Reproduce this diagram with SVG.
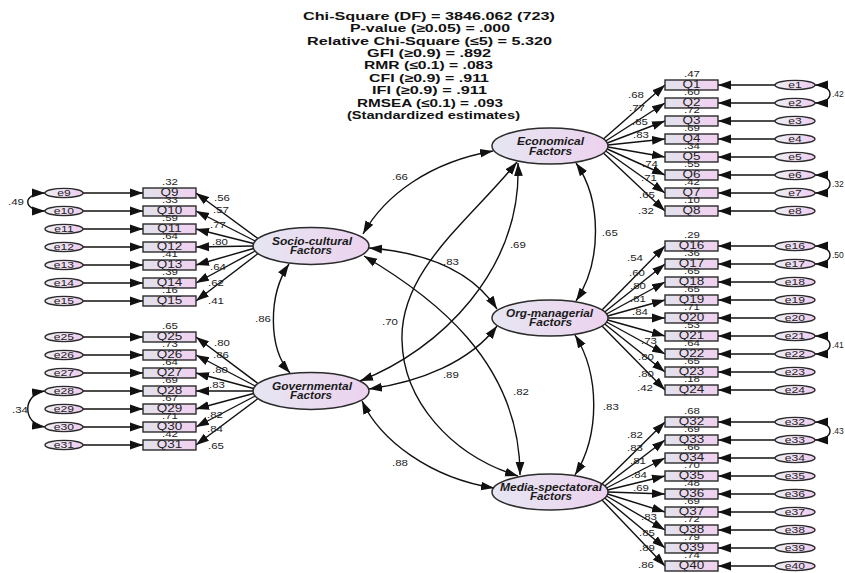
<svg xmlns="http://www.w3.org/2000/svg" width="845" height="573" viewBox="0 0 845 573">
<defs>
<linearGradient id="gq" x1="0" y1="0" x2="1" y2="0"><stop offset="0" stop-color="#e2e2ec"/><stop offset="1" stop-color="#f0d0f0"/></linearGradient>
<linearGradient id="ge" x1="0" y1="0" x2="1" y2="0"><stop offset="0" stop-color="#eeeef4"/><stop offset="1" stop-color="#efcdef"/></linearGradient>
<linearGradient id="gl" x1="0" y1="0" x2="1" y2="0"><stop offset="0" stop-color="#e6e6f2"/><stop offset="1" stop-color="#ecd2ee"/></linearGradient>
<marker id="ah" markerUnits="userSpaceOnUse" markerWidth="14" markerHeight="10" refX="13" refY="5" orient="auto-start-reverse" viewBox="0 0 14 10"><path d="M0,0.6 L13,5 L0,9.4 z" fill="#111"/></marker>
</defs>
<style>
text{font-family:"Liberation Sans",Arial,sans-serif;fill:#222}
.n rect{fill:url(#gq);stroke:#2b2b2b;stroke-width:1.4}
.e ellipse{fill:url(#ge);stroke:#2b2b2b;stroke-width:1.4}
.l ellipse{fill:url(#gl);stroke:#2b2b2b;stroke-width:1.5}
.s{transform-box:fill-box;transform-origin:center;transform:scaleX(1.35)}
.q{font-size:10px;text-anchor:middle}
.et{font-size:9px;text-anchor:middle}
.v{font-size:8.5px;text-anchor:middle}
.vs{font-size:8.5px;text-anchor:start}
.ve{font-size:8.5px;text-anchor:end}
.h{font-size:11px;font-weight:bold;text-anchor:middle;fill:#111}
.lt{font-size:10px;font-weight:bold;font-style:italic;text-anchor:middle;fill:#1a1a1a}
.c path,.c line{fill:none;stroke:#111;stroke-width:1.4}
.a1{marker-end:url(#ah)}
.a2{marker-start:url(#ah);marker-end:url(#ah)}
</style>
<rect width="845" height="573" fill="#fff"/>

<g id="header">
<text class="h" x="429" y="19.5" textLength="252" lengthAdjust="spacingAndGlyphs">Chi-Square (DF) = 3846.062 (723)</text>
<text class="h" x="430" y="32" textLength="160" lengthAdjust="spacingAndGlyphs">P-value (≥0.05) = .000</text>
<text class="h" x="429.5" y="44.5" textLength="245" lengthAdjust="spacingAndGlyphs">Relative Chi-Square (≤5) = 5.320</text>
<text class="h" x="429" y="57" textLength="124" lengthAdjust="spacingAndGlyphs">GFI (≥0.9) = .892</text>
<text class="h" x="428.5" y="69" textLength="129" lengthAdjust="spacingAndGlyphs">RMR (≤0.1) = .083</text>
<text class="h" x="429" y="82" textLength="120" lengthAdjust="spacingAndGlyphs">CFI (≥0.9) = .911</text>
<text class="h" x="429.5" y="94" textLength="115" lengthAdjust="spacingAndGlyphs">IFI (≥0.9) = .911</text>
<text class="h" x="430" y="106.5" textLength="146" lengthAdjust="spacingAndGlyphs">RMSEA (≤0.1) = .093</text>
<text class="h" x="433.5" y="119" textLength="173" lengthAdjust="spacingAndGlyphs">(Standardized estimates)</text>
</g>

<g id="connectors" class="c">
<line class="a1" x1="83" y1="193" x2="143" y2="193"/>
<line class="a1" x1="83" y1="211" x2="143" y2="211"/>
<line class="a1" x1="83" y1="229" x2="143" y2="229"/>
<line class="a1" x1="83" y1="247" x2="143" y2="247"/>
<line class="a1" x1="83" y1="265" x2="143" y2="265"/>
<line class="a1" x1="83" y1="283" x2="143" y2="283"/>
<line class="a1" x1="83" y1="301" x2="143" y2="301"/>
<line class="a1" x1="83" y1="337" x2="143" y2="337"/>
<line class="a1" x1="83" y1="355" x2="143" y2="355"/>
<line class="a1" x1="83" y1="373" x2="143" y2="373"/>
<line class="a1" x1="83" y1="391" x2="143" y2="391"/>
<line class="a1" x1="83" y1="409" x2="143" y2="409"/>
<line class="a1" x1="83" y1="427" x2="143" y2="427"/>
<line class="a1" x1="83" y1="445" x2="143" y2="445"/>
<line class="a1" x1="775" y1="85" x2="718" y2="85"/>
<line class="a1" x1="775" y1="103" x2="718" y2="103"/>
<line class="a1" x1="775" y1="121" x2="718" y2="121"/>
<line class="a1" x1="775" y1="139" x2="718" y2="139"/>
<line class="a1" x1="775" y1="157" x2="718" y2="157"/>
<line class="a1" x1="775" y1="175" x2="718" y2="175"/>
<line class="a1" x1="775" y1="193" x2="718" y2="193"/>
<line class="a1" x1="775" y1="211" x2="718" y2="211"/>
<line class="a1" x1="775" y1="246" x2="718" y2="246"/>
<line class="a1" x1="775" y1="264" x2="718" y2="264"/>
<line class="a1" x1="775" y1="282" x2="718" y2="282"/>
<line class="a1" x1="775" y1="300" x2="718" y2="300"/>
<line class="a1" x1="775" y1="318" x2="718" y2="318"/>
<line class="a1" x1="775" y1="336" x2="718" y2="336"/>
<line class="a1" x1="775" y1="354" x2="718" y2="354"/>
<line class="a1" x1="775" y1="372" x2="718" y2="372"/>
<line class="a1" x1="775" y1="390" x2="718" y2="390"/>
<line class="a1" x1="775" y1="422" x2="718" y2="422"/>
<line class="a1" x1="775" y1="440" x2="718" y2="440"/>
<line class="a1" x1="775" y1="458" x2="718" y2="458"/>
<line class="a1" x1="775" y1="476" x2="718" y2="476"/>
<line class="a1" x1="775" y1="494" x2="718" y2="494"/>
<line class="a1" x1="775" y1="512" x2="718" y2="512"/>
<line class="a1" x1="775" y1="530" x2="718" y2="530"/>
<line class="a1" x1="775" y1="548" x2="718" y2="548"/>
<line class="a1" x1="775" y1="566" x2="718" y2="566"/>
<line class="a1" x1="258" y1="238.5" x2="196" y2="193"/>
<line class="a1" x1="255.2" y1="241" x2="196" y2="211"/>
<line class="a1" x1="253.5" y1="243.5" x2="196" y2="229"/>
<line class="a1" x1="253" y1="246" x2="196" y2="247"/>
<line class="a1" x1="253.5" y1="248.5" x2="196" y2="265"/>
<line class="a1" x1="255.2" y1="251" x2="196" y2="283"/>
<line class="a1" x1="258" y1="253.5" x2="196" y2="301"/>
<line class="a1" x1="258" y1="383.5" x2="196" y2="337"/>
<line class="a1" x1="255.2" y1="386" x2="196" y2="355"/>
<line class="a1" x1="253.5" y1="388.5" x2="196" y2="373"/>
<line class="a1" x1="253" y1="391" x2="196" y2="391"/>
<line class="a1" x1="253.5" y1="393.5" x2="196" y2="409"/>
<line class="a1" x1="255.2" y1="396" x2="196" y2="427"/>
<line class="a1" x1="258" y1="398.5" x2="196" y2="445"/>
<line class="a1" x1="603.4" y1="139" x2="665" y2="85"/>
<line class="a1" x1="605.7" y1="141" x2="665" y2="103"/>
<line class="a1" x1="607.2" y1="143" x2="665" y2="121"/>
<line class="a1" x1="607.9" y1="145" x2="665" y2="139"/>
<line class="a1" x1="607.9" y1="147" x2="665" y2="157"/>
<line class="a1" x1="607.2" y1="149" x2="665" y2="175"/>
<line class="a1" x1="605.7" y1="151" x2="665" y2="193"/>
<line class="a1" x1="603.4" y1="153" x2="665" y2="211"/>
<line class="a1" x1="602" y1="310" x2="665" y2="246"/>
<line class="a1" x1="604.7" y1="312" x2="665" y2="264"/>
<line class="a1" x1="606.5" y1="314" x2="665" y2="282"/>
<line class="a1" x1="607.6" y1="316" x2="665" y2="300"/>
<line class="a1" x1="608" y1="318" x2="665" y2="318"/>
<line class="a1" x1="607.6" y1="320" x2="665" y2="336"/>
<line class="a1" x1="606.5" y1="322" x2="665" y2="354"/>
<line class="a1" x1="604.7" y1="324" x2="665" y2="372"/>
<line class="a1" x1="602" y1="326" x2="665" y2="390"/>
<line class="a1" x1="602" y1="484" x2="665" y2="422"/>
<line class="a1" x1="604.7" y1="486" x2="665" y2="440"/>
<line class="a1" x1="606.5" y1="488" x2="665" y2="458"/>
<line class="a1" x1="607.6" y1="490" x2="665" y2="476"/>
<line class="a1" x1="608" y1="492" x2="665" y2="494"/>
<line class="a1" x1="607.6" y1="494" x2="665" y2="512"/>
<line class="a1" x1="606.5" y1="496" x2="665" y2="530"/>
<line class="a1" x1="604.7" y1="498" x2="665" y2="548"/>
<line class="a1" x1="602" y1="500" x2="665" y2="566"/>
<path class="a2" d="M45,193 C22,193 22,211 45,211"/>
<path class="a2" d="M45,391 C22,394 22,424 45,427"/>
<path class="a2" d="M815,85 C835,85 835,103 815,103"/>
<path class="a2" d="M815,175 C835,175 835,193 815,193"/>
<path class="a2" d="M815,246 C835,246 835,264 815,264"/>
<path class="a2" d="M815,336 C835,336 835,354 815,354"/>
<path class="a2" d="M815,422 C835,422 835,440 815,440"/>
<path class="a2" d="M363,234 C385,195 430,162 493,151"/>
<path class="a2" d="M369,248 C420,252 470,268 497,309"/>
<path class="a2" d="M289,264 C268,295 268,348 290,373"/>
<path class="a2" d="M364,256 C430,295 520,360 520,475"/>
<path class="a2" d="M517,162 C470,220 400,270 402,340 C403,400 450,455 518,476"/>
<path class="a2" d="M518,163 C522,270 440,350 360,381"/>
<path class="a2" d="M576,163 C602,200 602,262 576,301"/>
<path class="a2" d="M369,389 C420,382 470,362 497,326"/>
<path class="a2" d="M575,335 C600,375 600,435 575,475"/>
<path class="a2" d="M362,401 C380,440 430,478 494,488"/>
</g>

<g id="labels">
<text class="v s" x="400" y="180">.66</text>
<text class="v s" x="451" y="265">.83</text>
<text class="ve s" x="269" y="322">.86</text>
<text class="v s" x="390" y="325">.70</text>
<text class="vs s" x="512" y="248">.69</text>
<text class="vs s" x="604" y="236">.65</text>
<text class="vs s" x="445" y="378">.89</text>
<text class="v s" x="521" y="395">.82</text>
<text class="vs s" x="605" y="410">.83</text>
<text class="v s" x="400" y="466">.88</text>
<text class="ve s" x="22" y="205">.49</text>
<text class="ve s" x="26" y="413">.34</text>
<text class="vs" x="832" y="97">.42</text>
<text class="vs" x="832" y="187">.32</text>
<text class="vs" x="832" y="258">.50</text>
<text class="vs" x="832" y="348">.41</text>
<text class="vs" x="832" y="434">.43</text>
<text class="v s" x="222" y="201">.56</text>
<text class="v s" x="221" y="213">.57</text>
<text class="v s" x="218" y="228">.77</text>
<text class="v s" x="220" y="245">.80</text>
<text class="v s" x="218" y="270">.64</text>
<text class="v s" x="216" y="286">.62</text>
<text class="v s" x="216" y="304">.41</text>
<text class="v s" x="222" y="346">.80</text>
<text class="v s" x="221" y="358">.86</text>
<text class="v s" x="220" y="373">.80</text>
<text class="v s" x="217" y="388">.83</text>
<text class="v s" x="215" y="418">.82</text>
<text class="v s" x="215" y="432">.84</text>
<text class="v s" x="216" y="449">.65</text>
<text class="v s" x="636" y="98">.68</text>
<text class="v s" x="637" y="111">.77</text>
<text class="v s" x="640" y="125">.85</text>
<text class="v s" x="641" y="138">.83</text>
<text class="v s" x="650" y="167">.74</text>
<text class="v s" x="649" y="181">.71</text>
<text class="v s" x="647" y="198">.65</text>
<text class="v s" x="646" y="214">.32</text>
<text class="v s" x="635" y="261">.54</text>
<text class="v s" x="637" y="276">.60</text>
<text class="v s" x="638" y="289">.80</text>
<text class="v s" x="638" y="302">.81</text>
<text class="v s" x="640" y="315">.84</text>
<text class="v s" x="649" y="344">.73</text>
<text class="v s" x="646" y="360">.80</text>
<text class="v s" x="646" y="377">.80</text>
<text class="v s" x="645" y="391">.42</text>
<text class="v s" x="635" y="438">.82</text>
<text class="v s" x="635" y="451">.83</text>
<text class="v s" x="638" y="464">.81</text>
<text class="v s" x="639" y="478">.84</text>
<text class="v s" x="641" y="491">.69</text>
<text class="v s" x="649" y="520">.83</text>
<text class="v s" x="647" y="536">.85</text>
<text class="v s" x="647" y="551">.89</text>
<text class="v s" x="646" y="568">.86</text>
</g>

<g id="latents" class="l">
<g id="Economical"><ellipse cx="550" cy="146" rx="58" ry="18"/><text class="lt" x="550.5" y="145" textLength="67" lengthAdjust="spacingAndGlyphs">Economical</text><text class="lt" x="550.5" y="154.5" textLength="43" lengthAdjust="spacingAndGlyphs">Factors</text></g>
<g id="Socio-cultural"><ellipse cx="311" cy="246" rx="58" ry="18.5"/><text class="lt" x="312" y="244.5" textLength="80" lengthAdjust="spacingAndGlyphs">Socio-cultural</text><text class="lt" x="311" y="254" textLength="42" lengthAdjust="spacingAndGlyphs">Factors</text></g>
<g id="Org-managerial"><ellipse cx="550" cy="318" rx="58" ry="18"/><text class="lt" x="549.5" y="316.5" textLength="87" lengthAdjust="spacingAndGlyphs">Org-managerial</text><text class="lt" x="550.5" y="326" textLength="43" lengthAdjust="spacingAndGlyphs">Factors</text></g>
<g id="Governmental"><ellipse cx="311" cy="391" rx="58" ry="18.5"/><text class="lt" x="312" y="389.5" textLength="80" lengthAdjust="spacingAndGlyphs">Governmental</text><text class="lt" x="311" y="399" textLength="42" lengthAdjust="spacingAndGlyphs">Factors</text></g>
<g id="Media-spectatoral"><ellipse cx="550" cy="492" rx="58" ry="18"/><text class="lt" x="551" y="490.5" textLength="102" lengthAdjust="spacingAndGlyphs">Media-spectatoral</text><text class="lt" x="551" y="500" textLength="42" lengthAdjust="spacingAndGlyphs">Factors</text></g>
</g>

<g id="indicators" class="n">
<g id="Q9"><rect x="143" y="188" width="53" height="10"/><text class="q s" x="169.5" y="196.5">Q9</text><text class="v s" x="170" y="185">.32</text></g>
<g id="Q10"><rect x="143" y="206" width="53" height="10"/><text class="q s" x="169.5" y="214.5">Q10</text><text class="v s" x="170" y="203">.33</text></g>
<g id="Q11"><rect x="143" y="224" width="53" height="10"/><text class="q s" x="169.5" y="232.5">Q11</text><text class="v s" x="170" y="221">.59</text></g>
<g id="Q12"><rect x="143" y="242" width="53" height="10"/><text class="q s" x="169.5" y="250.5">Q12</text><text class="v s" x="170" y="239">.64</text></g>
<g id="Q13"><rect x="143" y="260" width="53" height="10"/><text class="q s" x="169.5" y="268.5">Q13</text><text class="v s" x="170" y="257">.41</text></g>
<g id="Q14"><rect x="143" y="278" width="53" height="10"/><text class="q s" x="169.5" y="286.5">Q14</text><text class="v s" x="170" y="275">.39</text></g>
<g id="Q15"><rect x="143" y="296" width="53" height="10"/><text class="q s" x="169.5" y="304.5">Q15</text><text class="v s" x="170" y="293">.16</text></g>
<g id="Q25"><rect x="143" y="332" width="53" height="10"/><text class="q s" x="169.5" y="340.5">Q25</text><text class="v s" x="170" y="329">.65</text></g>
<g id="Q26"><rect x="143" y="350" width="53" height="10"/><text class="q s" x="169.5" y="358.5">Q26</text><text class="v s" x="170" y="347">.73</text></g>
<g id="Q27"><rect x="143" y="368" width="53" height="10"/><text class="q s" x="169.5" y="376.5">Q27</text><text class="v s" x="170" y="365">.64</text></g>
<g id="Q28"><rect x="143" y="386" width="53" height="10"/><text class="q s" x="169.5" y="394.5">Q28</text><text class="v s" x="170" y="383">.69</text></g>
<g id="Q29"><rect x="143" y="404" width="53" height="10"/><text class="q s" x="169.5" y="412.5">Q29</text><text class="v s" x="170" y="401">.67</text></g>
<g id="Q30"><rect x="143" y="422" width="53" height="10"/><text class="q s" x="169.5" y="430.5">Q30</text><text class="v s" x="170" y="419">.71</text></g>
<g id="Q31"><rect x="143" y="440" width="53" height="10"/><text class="q s" x="169.5" y="448.5">Q31</text><text class="v s" x="170" y="437">.42</text></g>
<g id="Q1"><rect x="665" y="80" width="53" height="10"/><text class="q s" x="691.5" y="88.5">Q1</text><text class="v s" x="692" y="77">.47</text></g>
<g id="Q2"><rect x="665" y="98" width="53" height="10"/><text class="q s" x="691.5" y="106.5">Q2</text><text class="v s" x="692" y="95">.60</text></g>
<g id="Q3"><rect x="665" y="116" width="53" height="10"/><text class="q s" x="691.5" y="124.5">Q3</text><text class="v s" x="692" y="113">.72</text></g>
<g id="Q4"><rect x="665" y="134" width="53" height="10"/><text class="q s" x="691.5" y="142.5">Q4</text><text class="v s" x="692" y="131">.69</text></g>
<g id="Q5"><rect x="665" y="152" width="53" height="10"/><text class="q s" x="691.5" y="160.5">Q5</text><text class="v s" x="692" y="149">.34</text></g>
<g id="Q6"><rect x="665" y="170" width="53" height="10"/><text class="q s" x="691.5" y="178.5">Q6</text><text class="v s" x="692" y="167">.55</text></g>
<g id="Q7"><rect x="665" y="188" width="53" height="10"/><text class="q s" x="691.5" y="196.5">Q7</text><text class="v s" x="692" y="185">.42</text></g>
<g id="Q8"><rect x="665" y="206" width="53" height="10"/><text class="q s" x="691.5" y="214.5">Q8</text><text class="v s" x="692" y="203">.10</text></g>
<g id="Q16"><rect x="665" y="241" width="53" height="10"/><text class="q s" x="691.5" y="249.5">Q16</text><text class="v s" x="692" y="238">.29</text></g>
<g id="Q17"><rect x="665" y="259" width="53" height="10"/><text class="q s" x="691.5" y="267.5">Q17</text><text class="v s" x="692" y="256">.36</text></g>
<g id="Q18"><rect x="665" y="277" width="53" height="10"/><text class="q s" x="691.5" y="285.5">Q18</text><text class="v s" x="692" y="274">.65</text></g>
<g id="Q19"><rect x="665" y="295" width="53" height="10"/><text class="q s" x="691.5" y="303.5">Q19</text><text class="v s" x="692" y="292">.65</text></g>
<g id="Q20"><rect x="665" y="313" width="53" height="10"/><text class="q s" x="691.5" y="321.5">Q20</text><text class="v s" x="692" y="310">.71</text></g>
<g id="Q21"><rect x="665" y="331" width="53" height="10"/><text class="q s" x="691.5" y="339.5">Q21</text><text class="v s" x="692" y="328">.53</text></g>
<g id="Q22"><rect x="665" y="349" width="53" height="10"/><text class="q s" x="691.5" y="357.5">Q22</text><text class="v s" x="692" y="346">.64</text></g>
<g id="Q23"><rect x="665" y="367" width="53" height="10"/><text class="q s" x="691.5" y="375.5">Q23</text><text class="v s" x="692" y="364">.65</text></g>
<g id="Q24"><rect x="665" y="385" width="53" height="10"/><text class="q s" x="691.5" y="393.5">Q24</text><text class="v s" x="692" y="382">.18</text></g>
<g id="Q32"><rect x="665" y="417" width="53" height="10"/><text class="q s" x="691.5" y="425.5">Q32</text><text class="v s" x="692" y="414">.68</text></g>
<g id="Q33"><rect x="665" y="435" width="53" height="10"/><text class="q s" x="691.5" y="443.5">Q33</text><text class="v s" x="692" y="432">.69</text></g>
<g id="Q34"><rect x="665" y="453" width="53" height="10"/><text class="q s" x="691.5" y="461.5">Q34</text><text class="v s" x="692" y="450">.66</text></g>
<g id="Q35"><rect x="665" y="471" width="53" height="10"/><text class="q s" x="691.5" y="479.5">Q35</text><text class="v s" x="692" y="468">.70</text></g>
<g id="Q36"><rect x="665" y="489" width="53" height="10"/><text class="q s" x="691.5" y="497.5">Q36</text><text class="v s" x="692" y="486">.48</text></g>
<g id="Q37"><rect x="665" y="507" width="53" height="10"/><text class="q s" x="691.5" y="515.5">Q37</text><text class="v s" x="692" y="504">.69</text></g>
<g id="Q38"><rect x="665" y="525" width="53" height="10"/><text class="q s" x="691.5" y="533.5">Q38</text><text class="v s" x="692" y="522">.72</text></g>
<g id="Q39"><rect x="665" y="543" width="53" height="10"/><text class="q s" x="691.5" y="551.5">Q39</text><text class="v s" x="692" y="540">.79</text></g>
<g id="Q40"><rect x="665" y="561" width="53" height="10"/><text class="q s" x="691.5" y="569.5">Q40</text><text class="v s" x="692" y="558">.74</text></g>
</g>

<g id="errors" class="e">
<g id="e9"><ellipse cx="64" cy="193" rx="19" ry="4.6"/><text class="et s" x="64" y="196">e9</text></g>
<g id="e10"><ellipse cx="64" cy="211" rx="19" ry="4.6"/><text class="et s" x="64" y="214">e10</text></g>
<g id="e11"><ellipse cx="64" cy="229" rx="19" ry="4.6"/><text class="et s" x="64" y="232">e11</text></g>
<g id="e12"><ellipse cx="64" cy="247" rx="19" ry="4.6"/><text class="et s" x="64" y="250">e12</text></g>
<g id="e13"><ellipse cx="64" cy="265" rx="19" ry="4.6"/><text class="et s" x="64" y="268">e13</text></g>
<g id="e14"><ellipse cx="64" cy="283" rx="19" ry="4.6"/><text class="et s" x="64" y="286">e14</text></g>
<g id="e15"><ellipse cx="64" cy="301" rx="19" ry="4.6"/><text class="et s" x="64" y="304">e15</text></g>
<g id="e25"><ellipse cx="64" cy="337" rx="19" ry="4.6"/><text class="et s" x="64" y="340">e25</text></g>
<g id="e26"><ellipse cx="64" cy="355" rx="19" ry="4.6"/><text class="et s" x="64" y="358">e26</text></g>
<g id="e27"><ellipse cx="64" cy="373" rx="19" ry="4.6"/><text class="et s" x="64" y="376">e27</text></g>
<g id="e28"><ellipse cx="64" cy="391" rx="19" ry="4.6"/><text class="et s" x="64" y="394">e28</text></g>
<g id="e29"><ellipse cx="64" cy="409" rx="19" ry="4.6"/><text class="et s" x="64" y="412">e29</text></g>
<g id="e30"><ellipse cx="64" cy="427" rx="19" ry="4.6"/><text class="et s" x="64" y="430">e30</text></g>
<g id="e31"><ellipse cx="64" cy="445" rx="19" ry="4.6"/><text class="et s" x="64" y="448">e31</text></g>
<g id="e1"><ellipse cx="795" cy="85" rx="20" ry="4.6"/><text class="et s" x="795" y="88">e1</text></g>
<g id="e2"><ellipse cx="795" cy="103" rx="20" ry="4.6"/><text class="et s" x="795" y="106">e2</text></g>
<g id="e3"><ellipse cx="795" cy="121" rx="20" ry="4.6"/><text class="et s" x="795" y="124">e3</text></g>
<g id="e4"><ellipse cx="795" cy="139" rx="20" ry="4.6"/><text class="et s" x="795" y="142">e4</text></g>
<g id="e5"><ellipse cx="795" cy="157" rx="20" ry="4.6"/><text class="et s" x="795" y="160">e5</text></g>
<g id="e6"><ellipse cx="795" cy="175" rx="20" ry="4.6"/><text class="et s" x="795" y="178">e6</text></g>
<g id="e7"><ellipse cx="795" cy="193" rx="20" ry="4.6"/><text class="et s" x="795" y="196">e7</text></g>
<g id="e8"><ellipse cx="795" cy="211" rx="20" ry="4.6"/><text class="et s" x="795" y="214">e8</text></g>
<g id="e16"><ellipse cx="795" cy="246" rx="20" ry="4.6"/><text class="et s" x="795" y="249">e16</text></g>
<g id="e17"><ellipse cx="795" cy="264" rx="20" ry="4.6"/><text class="et s" x="795" y="267">e17</text></g>
<g id="e18"><ellipse cx="795" cy="282" rx="20" ry="4.6"/><text class="et s" x="795" y="285">e18</text></g>
<g id="e19"><ellipse cx="795" cy="300" rx="20" ry="4.6"/><text class="et s" x="795" y="303">e19</text></g>
<g id="e20"><ellipse cx="795" cy="318" rx="20" ry="4.6"/><text class="et s" x="795" y="321">e20</text></g>
<g id="e21"><ellipse cx="795" cy="336" rx="20" ry="4.6"/><text class="et s" x="795" y="339">e21</text></g>
<g id="e22"><ellipse cx="795" cy="354" rx="20" ry="4.6"/><text class="et s" x="795" y="357">e22</text></g>
<g id="e23"><ellipse cx="795" cy="372" rx="20" ry="4.6"/><text class="et s" x="795" y="375">e23</text></g>
<g id="e24"><ellipse cx="795" cy="390" rx="20" ry="4.6"/><text class="et s" x="795" y="393">e24</text></g>
<g id="e32"><ellipse cx="795" cy="422" rx="20" ry="4.6"/><text class="et s" x="795" y="425">e32</text></g>
<g id="e33"><ellipse cx="795" cy="440" rx="20" ry="4.6"/><text class="et s" x="795" y="443">e33</text></g>
<g id="e34"><ellipse cx="795" cy="458" rx="20" ry="4.6"/><text class="et s" x="795" y="461">e34</text></g>
<g id="e35"><ellipse cx="795" cy="476" rx="20" ry="4.6"/><text class="et s" x="795" y="479">e35</text></g>
<g id="e36"><ellipse cx="795" cy="494" rx="20" ry="4.6"/><text class="et s" x="795" y="497">e36</text></g>
<g id="e37"><ellipse cx="795" cy="512" rx="20" ry="4.6"/><text class="et s" x="795" y="515">e37</text></g>
<g id="e38"><ellipse cx="795" cy="530" rx="20" ry="4.6"/><text class="et s" x="795" y="533">e38</text></g>
<g id="e39"><ellipse cx="795" cy="548" rx="20" ry="4.6"/><text class="et s" x="795" y="551">e39</text></g>
<g id="e40"><ellipse cx="795" cy="566" rx="20" ry="4.6"/><text class="et s" x="795" y="569">e40</text></g>
</g>
</svg>
